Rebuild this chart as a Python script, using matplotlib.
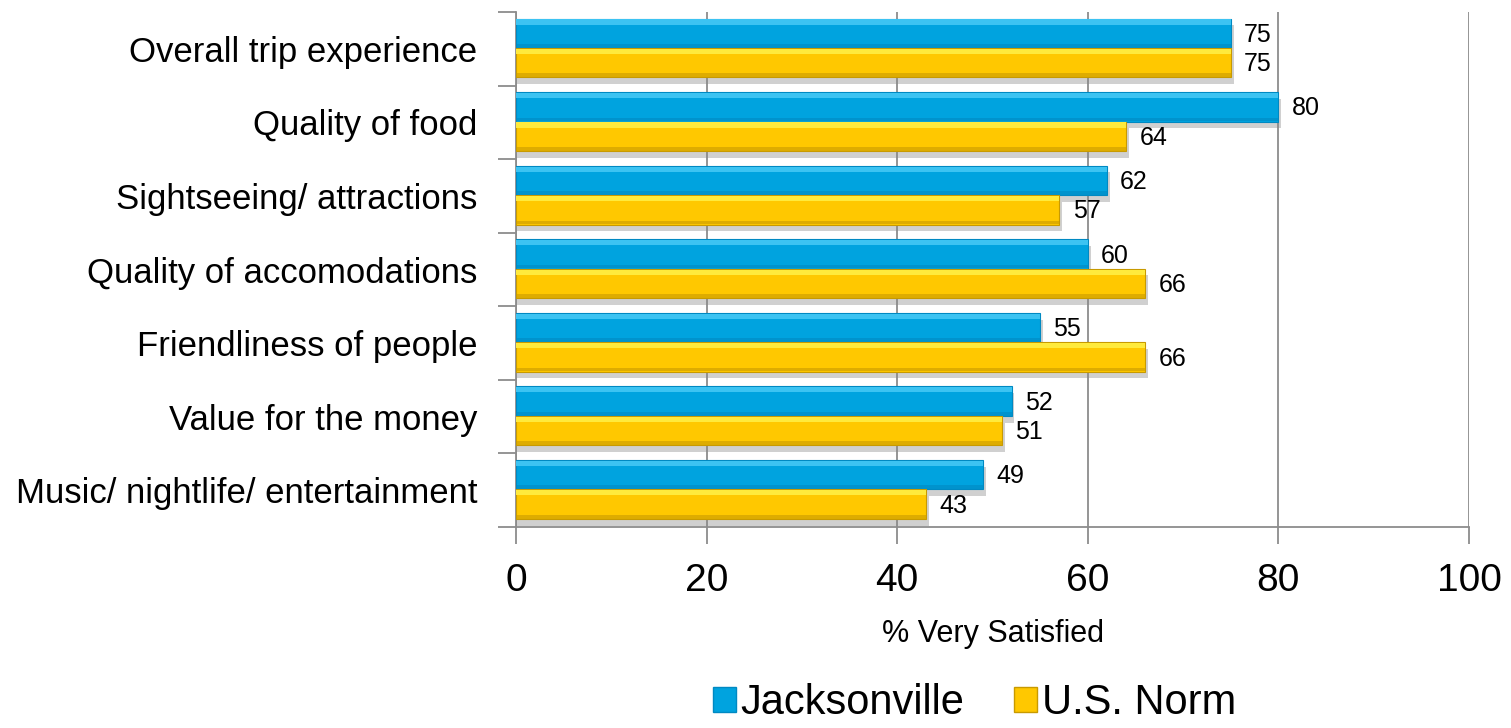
import numpy as np
import matplotlib.pyplot as plt
from matplotlib.patches import Patch
from matplotlib.ticker import FixedLocator, NullFormatter

plt.rcParams['font.family'] = ['Liberation Sans', 'DejaVu Sans']

# --- data ---
categories = ['Overall trip experience', 'Quality of food', 'Sightseeing/ attractions',
              'Quality of accomodations', 'Friendliness of people', 'Value for the money',
              'Music/ nightlife/ entertainment']
jacksonville = [75, 80, 62, 60, 55, 52, 49]
us_norm = [75, 64, 57, 66, 66, 51, 43]
series_names = ['Jacksonville', 'U.S. Norm']

# --- styling ---
BLUE = '#00A3DF'
BLUE_LIGHT = '#3CC3F2'
BLUE_DARK = '#0089C2'
GOLD = '#FFC800'
GOLD_LIGHT = '#FFEA3C'
GOLD_DARK = '#C89A00'
GRID = '#8C8C8C'

fig = plt.figure(figsize=(15.11, 7.28), dpi=100)
ax = fig.add_axes([0.3415, 0.2761, 0.6307, 0.7074])

y = np.arange(len(categories))
h = 0.40
yb = y - h / 2 - 0.01
yg = y + h / 2 - 0.01


def bevel_bar(ypos, vals, main, light, dark):
    # soft drop shadow under the bar
    ax.barh(ypos + 0.09, np.array(vals) + 0.3, height=h, color='#8a8a8a',
            alpha=0.4, zorder=2, linewidth=0)
    ax.barh(ypos, vals, height=h, color=main, zorder=3, linewidth=0.8, edgecolor=dark)
    # highlight along the top edge, darker band along the bottom edge
    ax.barh(ypos - h / 2 + 0.045, vals, height=0.07, color=light, zorder=4, linewidth=0)
    ax.barh(ypos + h / 2 - 0.03, vals, height=0.05, color=dark, alpha=0.6, zorder=4, linewidth=0)


bevel_bar(yb, jacksonville, BLUE, BLUE_LIGHT, BLUE_DARK)
bevel_bar(yg, us_norm, GOLD, GOLD_LIGHT, GOLD_DARK)

for yy, v in zip(yb, jacksonville):
    ax.text(v + 1.4, yy + 0.02, str(v), va='center', ha='left', fontsize=18, zorder=5)
for yy, v in zip(yg, us_norm):
    ax.text(v + 1.4, yy + 0.02, str(v), va='center', ha='left', fontsize=18, zorder=5)

# --- axes ---
ax.set_xlim(0, 100)
ax.set_ylim(len(categories) - 0.5, -0.5)
ax.set_xticks(np.arange(0, 101, 20))
ax.tick_params(axis='x', labelsize=28, length=12, width=1.3, color=GRID, pad=14)
ax.xaxis.grid(True, color=GRID, linewidth=1.3, zorder=0)
ax.set_axisbelow(True)

ax.yaxis.set_major_locator(FixedLocator(np.arange(-0.5, len(categories), 1.0)))
ax.yaxis.set_major_formatter(NullFormatter())
ax.yaxis.set_minor_locator(FixedLocator(y))
ax.set_yticklabels(categories, minor=True)
ax.tick_params(axis='y', which='major', length=13, width=1.3, color=GRID)
ax.tick_params(axis='y', which='minor', length=0, labelsize=25, pad=28)

for side in ['top', 'right']:
    ax.spines[side].set_visible(False)
for side in ['left', 'bottom']:
    ax.spines[side].set_color(GRID)
    ax.spines[side].set_linewidth(1.3)

ax.set_xlabel('% Very Satisfied', fontsize=22, labelpad=14)

handles = [Patch(facecolor=BLUE, edgecolor=BLUE_DARK), Patch(facecolor=GOLD, edgecolor=GOLD_DARK)]
fig.legend(handles, series_names, loc='center', bbox_to_anchor=(0.645, 0.034),
           ncol=2, frameon=False, fontsize=30, handlelength=0.55, handleheight=0.55,
           handletextpad=0.12, columnspacing=1.2, borderpad=0.1)

fig.savefig('out.png', dpi=100)
